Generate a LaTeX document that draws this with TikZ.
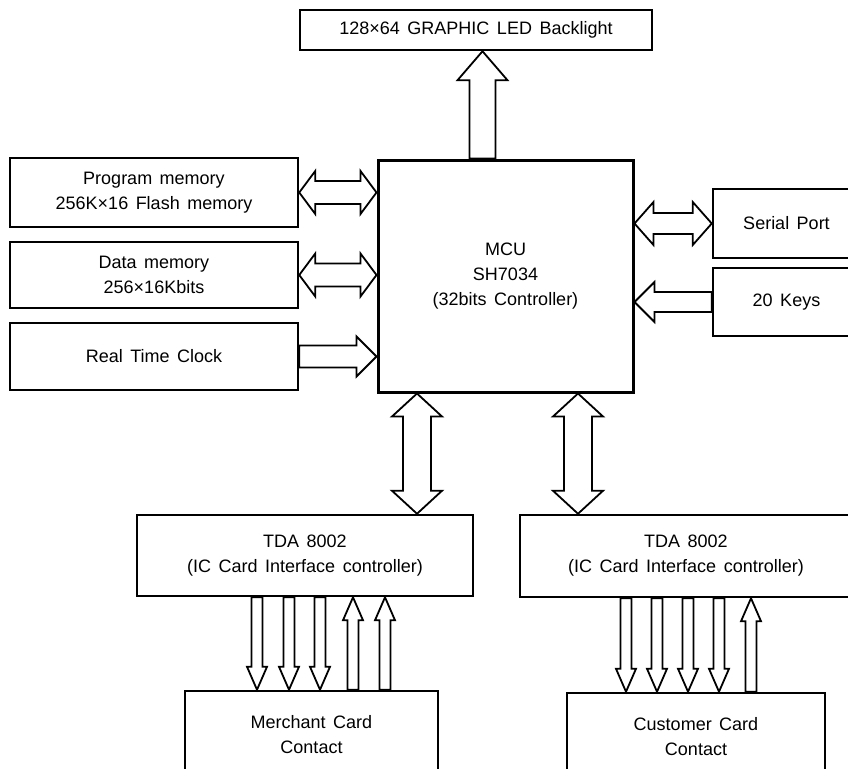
\documentclass[tikz,border=0pt]{standalone}
\usepackage{fontspec}
\setmainfont{Liberation Sans}[WordSpace=1.5]
\usetikzlibrary{calc}
\tikzset{
  blk/.style={draw, line width=2.5pt, align=center, inner sep=0pt,
              font=\fontsize{18}{25}\selectfont},
  % hollow bus arrows: half shaft, half head, head length
  busone/.style n args={3}{draw, line width=1.8pt, to path={
      ($(\tikztostart)!#1!90:(\tikztotarget)$)
      -- ($(\tikztotarget)!#3!(\tikztostart)!#1!90:(\tikztotarget)$)
      -- ($(\tikztotarget)!#3!(\tikztostart)!#2!90:(\tikztotarget)$)
      -- (\tikztotarget)
      -- ($(\tikztotarget)!#3!(\tikztostart)!#2!-90:(\tikztotarget)$)
      -- ($(\tikztotarget)!#3!(\tikztostart)!#1!-90:(\tikztotarget)$)
      -- ($(\tikztostart)!#1!-90:(\tikztotarget)$) -- cycle}},
  bustwo/.style n args={3}{draw, line width=1.8pt, to path={
      (\tikztostart)
      -- ($(\tikztostart)!#3!(\tikztotarget)!#2!90:(\tikztotarget)$)
      -- ($(\tikztostart)!#3!(\tikztotarget)!#1!90:(\tikztotarget)$)
      -- ($(\tikztotarget)!#3!(\tikztostart)!#1!90:(\tikztotarget)$)
      -- ($(\tikztotarget)!#3!(\tikztostart)!#2!90:(\tikztotarget)$)
      -- (\tikztotarget)
      -- ($(\tikztotarget)!#3!(\tikztostart)!#2!-90:(\tikztotarget)$)
      -- ($(\tikztotarget)!#3!(\tikztostart)!#1!-90:(\tikztotarget)$)
      -- ($(\tikztostart)!#3!(\tikztotarget)!#1!-90:(\tikztotarget)$)
      -- ($(\tikztostart)!#3!(\tikztotarget)!#2!-90:(\tikztotarget)$) -- cycle}},
  pinbus/.style={busone={5.5pt}{10pt}{23pt}},
}

\begin{document}
\begin{tikzpicture}[x=1pt, y=-1pt]
    \useasboundingbox (0,0) rectangle (848,768);
    \clip (0,0) rectangle (848,768);
    % blocks
    \node[blk, minimum width=352pt, minimum height=40pt] (led) at (476,30) {128×64 GRAPHIC LED Backlight};
    \node[blk, line width=3pt, minimum width=255pt, minimum height=232pt] (mcu) at (505.5,276) {MCU\\SH7034\\(32bits Controller)};
    \node[blk, minimum width=288pt, minimum height=69pt] (prog) at (154,192.5) {Program memory\\256K×16 Flash memory};
    \node[blk, minimum width=288pt, minimum height=66pt] (data) at (154,275) {Data memory\\256×16Kbits};
    \node[blk, minimum width=288pt, minimum height=67pt] (rtc) at (154,356.5) {Real Time Clock};
    \node[blk, minimum width=147pt, minimum height=69pt] (serial) at (786.5,223.5) {Serial Port};
    \node[blk, minimum width=147pt, minimum height=68pt] (keys) at (786.5,302) {20 Keys};
    \node[blk, minimum width=336pt, minimum height=81pt] (tdal) at (305,555.5) {TDA 8002\\(IC Card Interface controller)};
    \node[blk, minimum width=332pt, minimum height=82pt] (tdar) at (686,556) {TDA 8002\\(IC Card Interface controller)};
    \node[blk, minimum width=253pt, minimum height=88pt] (merch) at (311.5,735) {Merchant Card\\Contact};
    \node[blk, minimum width=258pt, minimum height=88pt] (cust) at (696,737) {Customer Card\\Contact};
    % buses round the MCU
    \coordinate (up) at ([xshift=-23pt]mcu.north);
    \draw[busone={13pt}{25pt}{29pt}] (up) to (up |- led.south);
    \draw[bustwo={11.5pt}{21.5pt}{16pt}] (prog.east) to (prog.east -| mcu.west);
    \draw[bustwo={11.5pt}{21.5pt}{16pt}] (data.east) to (data.east -| mcu.west);
    \draw[busone={11pt}{20pt}{20pt}] (rtc.east) to (rtc.east -| mcu.west);
    \draw[bustwo={10.5pt}{21.5pt}{19pt}] (mcu.east |- serial.west) to (serial.west);
    \draw[busone={10pt}{20pt}{20pt}] (keys.west) to (keys.west -| mcu.east);
    \coordinate (busl) at ([xshift=-88.5pt]mcu.south);
    \coordinate (busr) at ([xshift=72.5pt]mcu.south);
    \draw[bustwo={14pt}{25pt}{23pt}] (busl) to (busl |- tdal.north);
    \draw[bustwo={14pt}{25pt}{23pt}] (busr) to (busr |- tdar.north);
    % card contact lines
    \draw[pinbus] (tdal.south -| 257,0) to (merch.north -| 257,0);
    \draw[pinbus] (tdal.south -| 289,0) to (merch.north -| 289,0);
    \draw[pinbus] (tdal.south -| 320,0) to (merch.north -| 320,0);
    \draw[pinbus] (merch.north -| 353,0) to (tdal.south -| 353,0);
    \draw[pinbus] (merch.north -| 385,0) to (tdal.south -| 385,0);
    \draw[pinbus] (tdar.south -| 626,0) to (cust.north -| 626,0);
    \draw[pinbus] (tdar.south -| 657,0) to (cust.north -| 657,0);
    \draw[pinbus] (tdar.south -| 688,0) to (cust.north -| 688,0);
    \draw[pinbus] (tdar.south -| 719,0) to (cust.north -| 719,0);
    \draw[pinbus] (cust.north -| 751,0) to (tdar.south -| 751,0);
\end{tikzpicture}
\end{document}
